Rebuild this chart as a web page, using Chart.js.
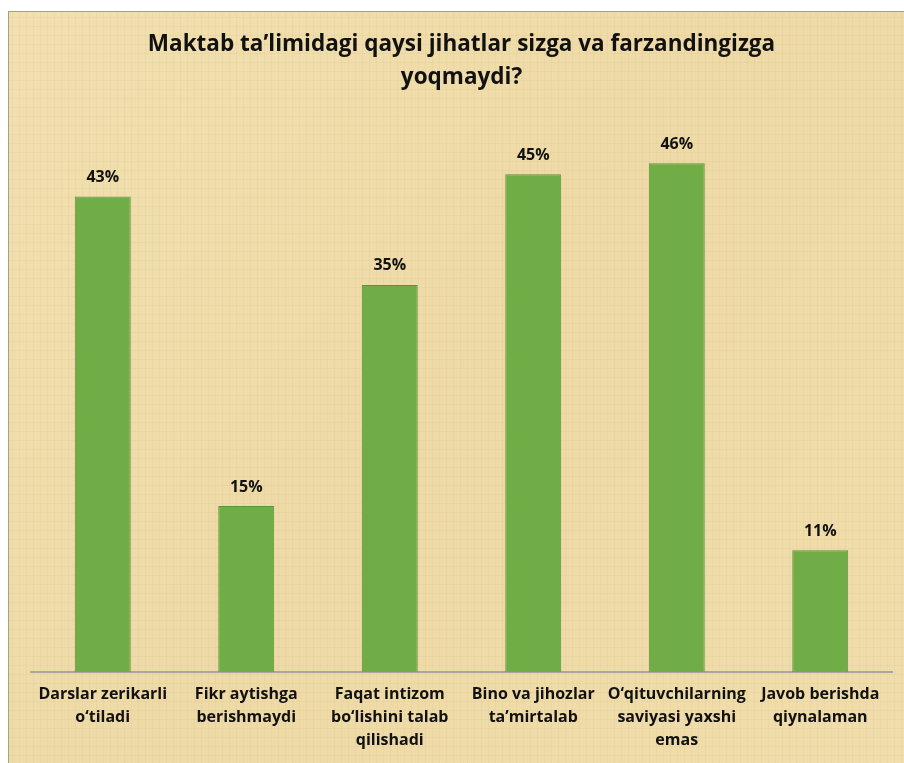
<!DOCTYPE html>
<html>
<head>
<meta charset="utf-8">
<script src="https://cdn.jsdelivr.net/npm/chart.js@4/dist/chart.umd.min.js"></script>
<style>
  html, body { margin: 0; padding: 0; background: #ffffff; }
  #wrap { position: absolute; left: 8px; top: 11px; width: 896px; height: 752px;
          border-left: 1px solid #a79f88; border-top: 1px solid #a79f88; }
  canvas { display: block; }
</style>
</head>
<body>
<div id="wrap"><canvas id="c"></canvas></div>
<script>
const titleLines = ["Maktab ta’limidagi qaysi jihatlar sizga va farzandingizga", "yoqmaydi?"];
const categories = [
  ["Darslar zerikarli", "o‘tiladi"],
  ["Fikr aytishga", "berishmaydi"],
  ["Faqat intizom", "bo‘lishini talab", "qilishadi"],
  ["Bino va jihozlar", "ta’mirtalab"],
  ["O‘qituvchilarning", "saviyasi yaxshi", "emas"],
  ["Javob berishda", "qiynalaman"]
];
const values = [43, 15, 35, 45, 46, 11];

const FONT = "'Open Sans', Lato, sans-serif";

const bgPlugin = {
  id: 'bg',
  beforeDraw(chart) {
    const ctx = chart.ctx;
    const w = chart.width, h = chart.height;
    ctx.save();
    const g = ctx.createLinearGradient(0, 0, w, h);
    g.addColorStop(0, '#f1e0b0');
    g.addColorStop(0.5, '#eedaa6');
    g.addColorStop(1, '#f0ddab');
    ctx.fillStyle = g;
    ctx.fillRect(0, 0, w, h);
    ctx.globalAlpha = 0.06;
    ctx.strokeStyle = '#b08a40';
    ctx.lineWidth = 1;
    for (let x = 3; x < w; x += 7) {
      ctx.beginPath(); ctx.moveTo(x + 0.5, 0); ctx.lineTo(x + 0.5, h); ctx.stroke();
    }
    for (let y = 5; y < h; y += 9) {
      ctx.beginPath(); ctx.moveTo(0, y + 0.5); ctx.lineTo(w, y + 0.5); ctx.stroke();
    }
    ctx.restore();
  }
};

const labelPlugin = {
  id: 'valueLabels',
  afterDatasetsDraw(chart) {
    const ctx = chart.ctx;
    const meta = chart.getDatasetMeta(0);
    ctx.save();
    ctx.font = "bold 16px " + FONT;
    ctx.fillStyle = '#111111';
    ctx.textAlign = 'center';
    ctx.textBaseline = 'middle';
    meta.data.forEach((bar, i) => {
      ctx.fillText(values[i] + '%', bar.x, bar.y - 19);
    });
    ctx.restore();
  }
};

new Chart(document.getElementById('c'), {
  type: 'bar',
  data: {
    labels: categories,
    datasets: [{
      data: values,
      backgroundColor: '#70ad47',
      borderColor: '#5b953a',
      borderWidth: 1,
      categoryPercentage: 1.0,
      barPercentage: 0.39
    }]
  },
  options: {
    responsive: true,
    maintainAspectRatio: false,
    animation: false,
    layout: { padding: { left: 22, right: 13, top: 0, bottom: 1 } },
    plugins: {
      legend: { display: false },
      tooltip: { enabled: false },
      title: {
        display: true,
        text: titleLines,
        color: '#111111',
        font: { family: FONT, size: 22.5, weight: 'bold', lineHeight: '33px' },
        padding: { top: 16, bottom: 25 }
      }
    },
    scales: {
      x: {
        grid: { display: false, drawTicks: false },
        border: { display: true, color: '#a6a6a6', width: 2 },
        ticks: {
          color: '#111111',
          font: { family: FONT, size: 16, weight: 'bold', lineHeight: '23px' },
          padding: 11,
          maxRotation: 0,
          autoSkip: false
        }
      },
      y: {
        display: false,
        min: 0,
        max: 50
      }
    }
  },
  plugins: [bgPlugin, labelPlugin]
});
</script>
</body>
</html>
